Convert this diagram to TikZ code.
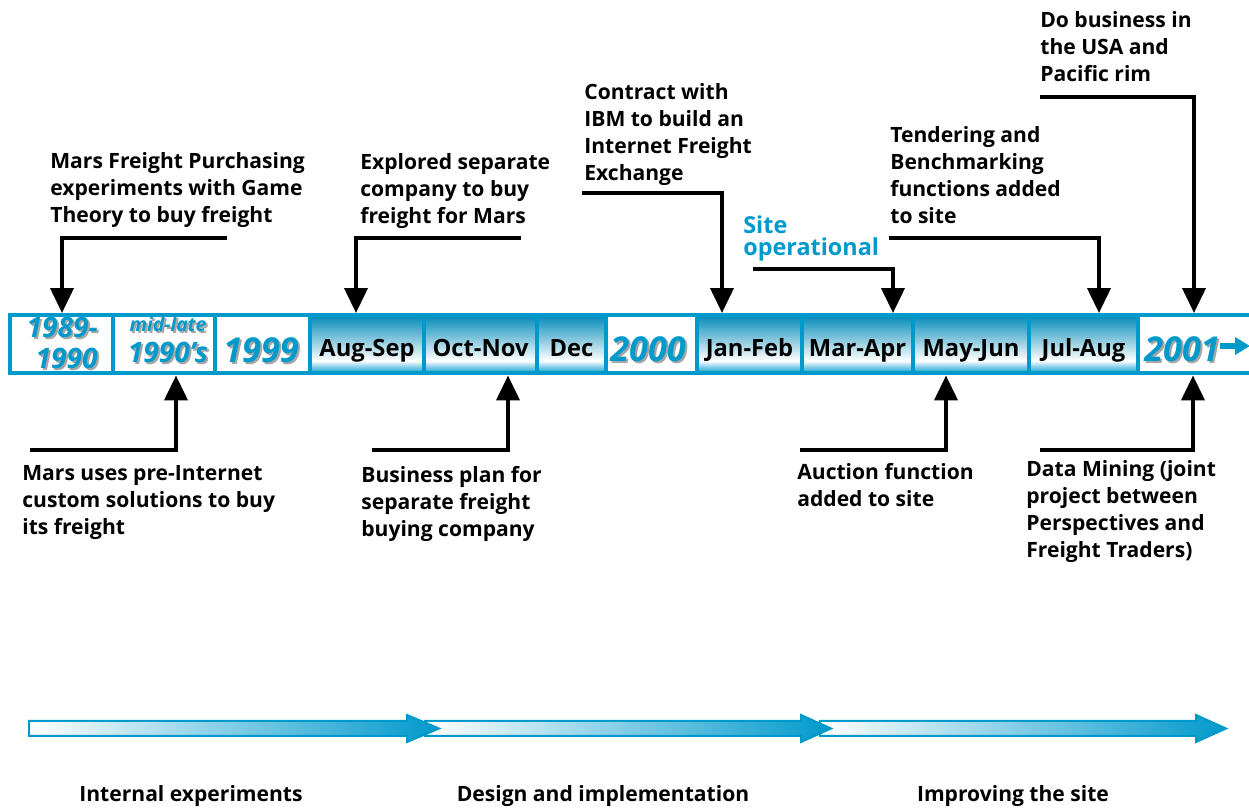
\documentclass[tikz,border=0pt]{standalone}
\usepackage{fontspec}
\setmainfont{Open Sans}
\usetikzlibrary{arrows.meta}
\definecolor{marsblue}{HTML}{0099CC}
% month cells: blue at top and bottom, white just below the middle
\pgfdeclareverticalshading{monthshade}{100bp}{color(0bp)=(marsblue); color(25bp)=(marsblue); color(36bp)=(white); color(75bp)=(marsblue!90!black); color(100bp)=(marsblue!90!black)}
\newcommand{\shadowed}[1]{\makebox[0pt][l]{\raisebox{-0.04cm}{\hspace{0.04cm}\textcolor{black!35}{#1}}}#1}
\tikzset{
  cell/.style={draw=marsblue, line width=0.08cm, minimum height=1.17cm, inner sep=0pt},
  yearcell/.style={cell, fill=white},
  monthcell/.style={cell, shading=monthshade},
  month/.style={anchor=base, inner sep=0pt, font=\bfseries\fontsize{13.5}{16}\selectfont},
  year/.style={anchor=base, inner sep=0pt, text=marsblue, font=\bfseries\itshape\fontsize{19.5}{23}\selectfont},
  note/.style={anchor=north west, inner sep=0pt, align=left, font=\bfseries\fontsize{12}{15.3}\selectfont},
  pointer/.style={line width=0.08cm, -{Triangle[width=0.46cm,length=0.5cm]}},
  phase/.style={draw=marsblue, line width=0.04cm, left color=white, right color=marsblue},
  phaselbl/.style={anchor=base, inner sep=0pt, font=\bfseries\fontsize{12}{14}\selectfont},
}
\begin{document}
\begin{tikzpicture}[x=0.02cm, y=-0.02cm]
  \useasboundingbox (0,0) rectangle (1249,810);
  % Timeline cells
  \foreach \nm/\xa/\xb/\st in {y89/10/113/yearcell, ml/113/215/yearcell, y99/215/310/yearcell,
      as/310/424/monthcell, on/424/537/monthcell, dc/537/606/monthcell, y00/606/697/yearcell,
      jf/697/802/monthcell, ma/802/913/monthcell, mj/913/1029/monthcell, ja/1029/1138/monthcell,
      y01/1138/1262/yearcell}
    \node[\st, minimum width={(\xb-\xa)*0.02cm}] (\nm) at ({(\xa+\xb)/2},344.25) {};
  % Years
  \node[year, anchor=north east, align=right, font=\bfseries\itshape\fontsize{16}{17.6}\selectfont] (t89) at (98,317) {\shadowed{1989-}\\\shadowed{1990}};
  \node[year, font=\bfseries\itshape\fontsize{11}{13}\selectfont] (tml) at (168,332) {\shadowed{mid-late}};
  \node[year, font=\bfseries\itshape\fontsize{16}{19}\selectfont] (t90) at (168,363) {\shadowed{1990's}};
  \node[year] (t99) at (261,363) {\shadowed{1999}};
  \node[year] (t00) at (648,362) {\shadowed{2000}};
  \node[year] (t01) at (1182,362) {\shadowed{2001}};
  \coordinate (t01tip) at (1250,346);
  \draw[marsblue, line width=0.11cm, -{Triangle[width=0.34cm,length=0.3cm]}] (t01.east |- t01tip) ++(0.2,0) -- (t01tip);
  % Months
  \node[month] (tas) at (367,357) {Aug-Sep};
  \node[month] (ton) at (480.5,357) {Oct-Nov};
  \node[month] (tdc) at (571.5,357) {Dec};
  \node[month] (tjf) at (749.5,357) {Jan-Feb};
  \node[month] (tma) at (857.5,357) {Mar-Apr};
  \node[month] (tmj) at (971,357) {May-Jun};
  \node[month] (tja) at (1083.5,357) {Jul-Aug};
  % Notes above the timeline
  \node[note] (mfp) at (50,152) {Mars Freight Purchasing\\experiments with Game\\Theory to buy freight};
  \node[note] (exp) at (360,153) {Explored separate\\company to buy\\freight for Mars};
  \node[note] (ibm) at (584,83) {Contract with\\IBM to build an\\Internet Freight\\Exchange};
  \node[note, text=marsblue, font=\bfseries\fontsize{13.3}{12.5}\selectfont] (site) at (743,215) {Site\\operational};
  \node[note] (tnd) at (890,126) {Tendering and\\Benchmarking\\functions added\\to site};
  \node[note] (usa) at (1040,11) {Do business in\\the USA and\\Pacific rim};
  % Notes below the timeline
  \node[note] (cus) at (22,465) {Mars uses pre-Internet\\custom solutions to buy\\its freight};
  \node[note] (bpl) at (361,466) {Business plan for\\separate freight\\buying company};
  \node[note] (auc) at (797,463) {Auction function\\added to site};
  \node[note] (dmn) at (1026,460) {Data Mining (joint\\project between\\Perspectives and\\Freight Traders)};
  % Pointers
  \coordinate (mfp-a) at (227,238);
  \coordinate (exp-a) at (521,238);
  \coordinate (ibm-a) at (582,193);
  \coordinate (site-a) at (753,269);
  \coordinate (tnd-a) at (889,238);
  \coordinate (usa-a) at (1040,97);
  \coordinate (cus-a) at (30,450);
  \coordinate (bpl-a) at (372,450);
  \coordinate (auc-a) at (800,450);
  \coordinate (dmn-a) at (1040,450);
  \draw[pointer] (mfp-a) -| (62,0 |- y89.north);
  \draw[pointer] (exp-a) -| (356,0 |- as.north);
  \draw[pointer] (ibm-a) -| (722,0 |- jf.north);
  \draw[pointer] (site-a) -| (893,0 |- ma.north);
  \draw[pointer] (tnd-a) -| (1099,0 |- ja.north);
  \draw[pointer] (usa-a) -| (1194,0 |- y01.north);
  \draw[pointer] (cus-a) -| (176,0 |- ml.south);
  \draw[pointer] (bpl-a) -| (508,0 |- on.south);
  \draw[pointer] (auc-a) -| (946,0 |- mj.south);
  \draw[pointer] (dmn-a) -| (1193,0 |- y01.south);
  % Phase arrows (last one first, so each head lies over the next bar)
  \path[phase] (820,721) -- (1196,721) -- (1196,715) -- (1226,728.5) -- (1196,742) -- (1196,736) -- (820,736) -- cycle;
  \path[phase] (425,721) -- (801,721) -- (801,715) -- (831,728.5) -- (801,742) -- (801,736) -- (425,736) -- cycle;
  \path[phase] (29,721) -- (407,721) -- (407,715) -- (439,728.5) -- (407,742) -- (407,736) -- (29,736) -- cycle;
  \node[phaselbl] (ph1) at (191,802) {Internal experiments};
  \node[phaselbl] (ph2) at (603,802) {Design and implementation};
  \node[phaselbl] (ph3) at (1013,802) {Improving the site};
\end{tikzpicture}
\end{document}
